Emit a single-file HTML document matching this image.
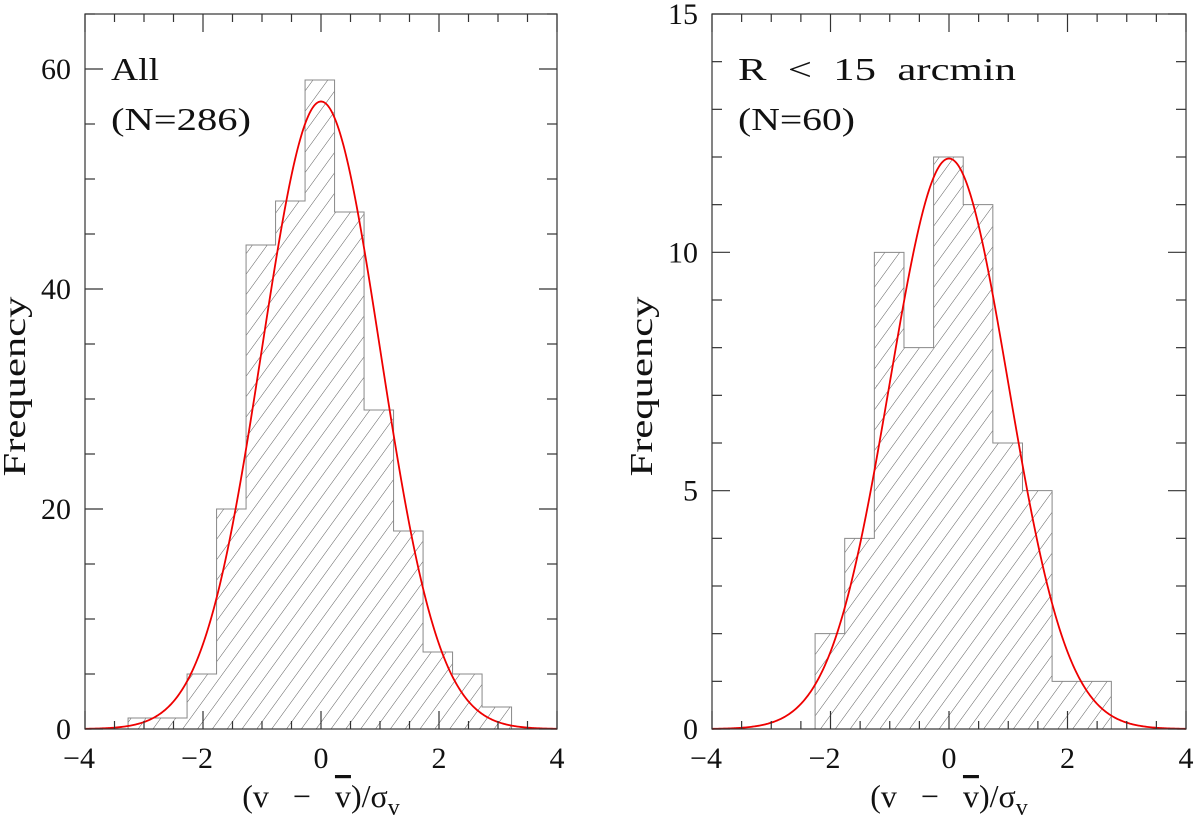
<!DOCTYPE html>
<html><head><meta charset="utf-8"><style>
body{margin:0;background:#fff;}
svg{display:block;font-family:"Liberation Serif",serif;}
</style></head><body>
<svg id="chart" width="1200" height="823" viewBox="0 0 1200 823" xmlns="http://www.w3.org/2000/svg">
<defs>
<pattern id="hatch" patternUnits="userSpaceOnUse" width="12" height="12" patternTransform="rotate(36)">
<line x1="0" y1="0" x2="0" y2="12" stroke="#333" stroke-width="0.8"/>
</pattern>
</defs>
</svg>
<script>
// Left panel data
const leftEdgeStart = -3.27;
const binWidth = 0.5;
const leftCounts = [1,1,5,20,44,48,59,47,29,18,7,5,2];
const leftN = 286;
const leftYTicks = [0,20,40,60];
// Right panel data
const rightEdgeStart = -2.26;
const rightCounts = [2,4,10,8,12,11,6,5,1,1];
const rightN = 60;
const rightYTicks = [0,5,10,15];
const xTicks = [-4,-2,0,2,4];

const svg = document.getElementById('chart');
const NS = 'http://www.w3.org/2000/svg';
function mk(tag, attrs, parent){
  const e = document.createElementNS(NS, tag);
  for (const k in attrs) e.setAttribute(k, attrs[k]);
  (parent||svg).appendChild(e);
  return e;
}

function panel(cfg){
  const g = mk('g', {});
  
  
  const X = v => cfg.x0 + (v + 4) / 8 * (cfg.x1 - cfg.x0);
  const Y = v => cfg.y0 - v / cfg.ymax * (cfg.y0 - cfg.y1);
  // histogram step outline
  let d = 'M' + X(cfg.start) + ',' + cfg.y0;
  cfg.counts.forEach((c,i)=>{
    const a = X(cfg.start + i*binWidth), b = X(cfg.start + (i+1)*binWidth);
    d += ' L' + a + ',' + Y(c) + ' L' + b + ',' + Y(c);
  });
  d += ' L' + X(cfg.start + cfg.counts.length*binWidth) + ',' + cfg.y0 + ' Z';
  const h = mk('path', {d:d, fill:'url(#hatch)', stroke:'#888', 'stroke-width':1}, g);
  
  
  // gaussian
  const amp = cfg.n * binWidth / Math.sqrt(2*Math.PI);
  let pts = [];
  for (let k=0;k<=400;k++){ const v=-4+8*k/400; pts.push(X(v).toFixed(2)+','+Y(amp*Math.exp(-v*v/2)).toFixed(2)); }
  const pl = mk('polyline', {points:pts.join(' '), fill:'none', stroke:'#e00', 'stroke-width':1.8}, g);
  
  
  // frame
  const fr = mk('rect', {x:cfg.x0, y:cfg.y1, width:cfg.x1-cfg.x0, height:cfg.y0-cfg.y1, fill:'none', stroke:'#333', 'stroke-width':1.2}, g);
  
  
  for (let v=-4; v<=4.001; v+=0.5){
    const major = Math.abs(v/2 - Math.round(v/2))<1e-6;
    const L = major?18:8;
    mk('line',{x1:X(v),x2:X(v),y1:cfg.y0,y2:cfg.y0-L,stroke:'#333','stroke-width':1.2},g);
    mk('line',{x1:X(v),x2:X(v),y1:cfg.y1,y2:cfg.y1+L,stroke:'#333','stroke-width':1.2},g);
  }
  for (let v=0; v<=cfg.ymax+1e-6; v+=cfg.minor){
    const major = Math.abs(v/cfg.major - Math.round(v/cfg.major))<1e-6;
    const L = major?18:10;
    mk('line',{x1:cfg.x0,x2:cfg.x0+L,y1:Y(v),y2:Y(v),stroke:'#333','stroke-width':1.2},g);
    mk('line',{x1:cfg.x1,x2:cfg.x1-L,y1:Y(v),y2:Y(v),stroke:'#333','stroke-width':1.2},g);
  }
  xTicks.forEach(v=>{
    const t = mk('text',{x:X(v)-(v<0?6:0),y:cfg.y0+39,'font-size':30,'text-anchor':'middle',fill:'#111'},g);
    t.textContent = v<0 ? '\u2212'+(-v) : String(v);
    
    
  });
  cfg.yticks.forEach(v=>{
    const t = mk('text',{x:cfg.x0-14,y:Y(v)+10,'font-size':30,'text-anchor':'end',fill:'#111'},g);
    t.textContent = String(v);
    
    
  });
  const xt = mk('text',{x:(cfg.x0+cfg.x1)/2,y:cfg.y0+78,'font-size':32,'text-anchor':'middle',fill:'#111'},g);
  xt.innerHTML = '(v \u00A0\u00A0\u2212 \u00A0\u00A0<tspan text-decoration="overline">v</tspan>)/\u03C3<tspan font-size="24" dy="8">v</tspan>';
  
  
  const yt = mk('text',{x:0,y:0,'font-size':32,'text-anchor':'middle',fill:'#111',textLength:180,lengthAdjust:'spacingAndGlyphs',transform:`translate(${cfg.x0-60},${(cfg.y0+cfg.y1)/2+15}) rotate(-90)`},g);
  yt.textContent = 'Frequency';
  
  
  cfg.labels.forEach((s,i)=>{
    const t = mk('text',{x:cfg.x0+26,y:cfg.y1+66+i*50,'font-size':32,fill:'#111',textLength:cfg.lens[i],lengthAdjust:'spacingAndGlyphs'},g);
    t.textContent = s;
    
    
  });
}

panel({name:'left-panel-all', x0:85, x1:557, y0:729, y1:14, ymax:65, minor:5, major:20,
  counts:leftCounts, start:leftEdgeStart, n:leftN, yticks:leftYTicks, labels:['All','(N=286)'], lens:[48,140]});
panel({name:'right-panel-r15', x0:712, x1:1186, y0:729, y1:14, ymax:15, minor:1, major:5,
  counts:rightCounts, start:rightEdgeStart, n:rightN, yticks:rightYTicks, labels:['R \u00A0< \u00A015 \u00A0arcmin','(N=60)'], lens:[278,117]});
</script>
</body></html>
